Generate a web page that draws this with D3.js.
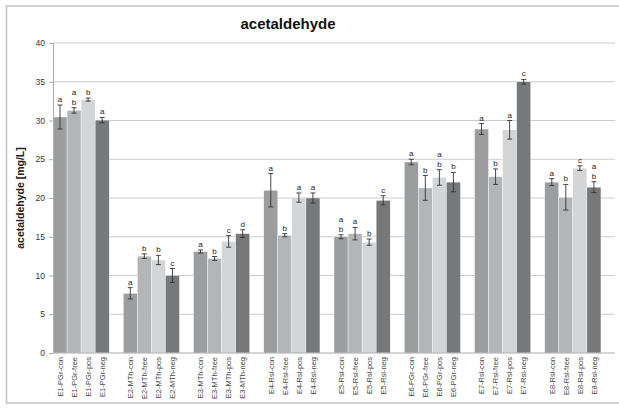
<!DOCTYPE html>
<html>
<head>
<meta charset="utf-8">
<script src="https://cdn.jsdelivr.net/npm/d3@7"></script>
<style>
  html, body { margin: 0; padding: 0; background: #fff; }
  svg { display: block; font-family: "Liberation Sans", Arial, sans-serif; }
</style>
</head>
<body>
<svg id="chart" width="619" height="408"></svg>
<script>
// Experiments and their four treatments
const experiments = ["E1-PGr", "E2-MTh", "E3-MTh", "E4-Rsl", "E5-Rsl", "E6-PGr", "E7-Rsl", "E8-Rsl"];
const treatments = ["con", "free", "pos", "neg"];

// Mean acetaldehyde [mg/L], one row per experiment (con, free, pos, neg)
const means = [
  [30.45, 31.3, 32.7, 30.05],
  [7.7, 12.5, 12.0, 10.0],
  [13.1, 12.2, 14.4, 15.4],
  [21.0, 15.2, 20.05, 20.0],
  [15.0, 15.4, 14.3, 19.7],
  [24.65, 21.3, 22.65, 22.05],
  [28.9, 22.75, 28.8, 35.0],
  [22.05, 20.1, 23.85, 21.4]
];

// Error bar half-widths
const errors = [
  [1.55, 0.35, 0.2, 0.35],
  [0.73, 0.3, 0.6, 0.9],
  [0.2, 0.25, 0.75, 0.5],
  [2.15, 0.2, 0.6, 0.65],
  [0.25, 0.8, 0.4, 0.6],
  [0.35, 1.6, 1.0, 1.25],
  [0.7, 1.0, 1.2, 0.3],
  [0.45, 1.65, 0.3, 0.7]
];

// Significance letters (stacked top to bottom)
const letters = [
  [["a"], ["a", "b"], ["b"], ["a"]],
  [["a"], ["b"], ["b"], ["c"]],
  [["a"], ["b"], ["c"], ["d"]],
  [["a"], ["b"], ["a"], ["a"]],
  [["a", "b"], ["a"], ["b"], ["c"]],
  [["a"], ["b"], ["a", "b"], ["b"]],
  [["a"], ["b"], ["a"], ["c"]],
  [["a"], ["b"], ["c"], ["a", "b"]]
];

const yTicks = [0, 5, 10, 15, 20, 25, 30, 35, 40];
const treatmentColors = ["#9c9d9f", "#b4b5b7", "#d4d5d7", "#76787a"];

// Flatten into bar records; each experiment is followed by an empty slot
const bars = [];
const slots = [];
experiments.forEach((e, gi) => {
  treatments.forEach((t, ti) => {
    const key = `${e}-${t}`;
    slots.push(key);
    bars.push({ key, ti, value: means[gi][ti], err: errors[gi][ti], letters: letters[gi][ti] });
  });
  slots.push(`gap${gi}`);
});

const svg = d3.select("#chart");
const plot = { left: 53, right: 615, top: 43, bottom: 353 };

// Outer frame
svg.append("rect")
  .attr("x", 6.5).attr("y", 6).attr("width", 616).attr("height", 397)
  .attr("fill", "#fff").attr("stroke", "#c4c6c8").attr("stroke-width", 1.6);

const x = d3.scaleBand().domain(slots).range([plot.left, plot.right]).padding(0);
const y = d3.scaleLinear().domain([0, 40]).range([plot.bottom, plot.top]);

// Title
svg.append("text")
  .attr("x", 288).attr("y", 29)
  .attr("text-anchor", "middle")
  .attr("font-size", 15).attr("font-weight", "bold").attr("fill", "#111")
  .text("acetaldehyde");

// Horizontal gridlines
svg.append("g").selectAll("line")
  .data(yTicks.filter(v => v > 0))
  .join("line")
  .attr("x1", plot.left).attr("x2", plot.right)
  .attr("y1", d => y(d)).attr("y2", d => y(d))
  .attr("stroke", "#c9cbcd").attr("stroke-width", 1);

// Y axis
const yAxis = d3.axisLeft(y).tickValues(yTicks).tickSize(4).tickPadding(4);
const gy = svg.append("g").attr("transform", `translate(${plot.left},0)`).call(yAxis);
gy.select(".domain").attr("stroke", "#a8aaac");
gy.selectAll(".tick line").attr("stroke", "#a8aaac");
gy.selectAll(".tick text").attr("font-size", 8.5).attr("fill", "#333")
  .attr("font-family", "Liberation Sans, Arial, sans-serif");

// Y axis title
svg.append("text")
  .attr("transform", `translate(24,${(plot.top + plot.bottom) / 2}) rotate(-90)`)
  .attr("text-anchor", "middle")
  .attr("font-size", 10.5).attr("font-weight", "bold").attr("fill", "#222")
  .text("acetaldehyde [mg/L]");

// Bars
svg.append("g").selectAll("rect")
  .data(bars)
  .join("rect")
  .attr("x", d => x(d.key)).attr("width", x.bandwidth())
  .attr("y", d => y(d.value)).attr("height", d => y(0) - y(d.value))
  .attr("fill", d => treatmentColors[d.ti])
  .attr("stroke", "#ffffff").attr("stroke-width", 0.4);

// Error bars
const eb = svg.append("g").attr("stroke", "#333").attr("stroke-width", 0.9);
bars.forEach(d => {
  const cx = x(d.key) + x.bandwidth() / 2;
  const y1 = y(d.value + d.err), y2 = y(d.value - d.err);
  eb.append("line").attr("x1", cx).attr("x2", cx).attr("y1", y1).attr("y2", y2);
  eb.append("line").attr("x1", cx - 2.5).attr("x2", cx + 2.5).attr("y1", y1).attr("y2", y1);
  eb.append("line").attr("x1", cx - 2.5).attr("x2", cx + 2.5).attr("y1", y2).attr("y2", y2);
});

// Significance letters above error bars
const lg = svg.append("g").attr("font-size", 8).attr("fill", "#222").attr("text-anchor", "middle");
bars.forEach(d => {
  const cx = x(d.key) + x.bandwidth() / 2;
  const top = y(d.value + d.err) - 3;
  const n = d.letters.length;
  d.letters.forEach((l, i) => {
    lg.append("text").attr("x", cx).attr("y", top - (n - 1 - i) * 9.5).text(l);
  });
});

// X axis baseline
svg.append("line")
  .attr("x1", plot.left).attr("x2", plot.right)
  .attr("y1", plot.bottom).attr("y2", plot.bottom)
  .attr("stroke", "#a8aaac");

// Rotated category labels
svg.append("g").selectAll("text")
  .data(bars)
  .join("text")
  .attr("transform", d => `translate(${x(d.key) + x.bandwidth() / 2 + 2.8},${plot.bottom + 4}) rotate(-90)`)
  .attr("text-anchor", "end")
  .attr("font-size", 7.5).attr("fill", "#444")
  .text(d => d.key);
</script>
</body>
</html>
